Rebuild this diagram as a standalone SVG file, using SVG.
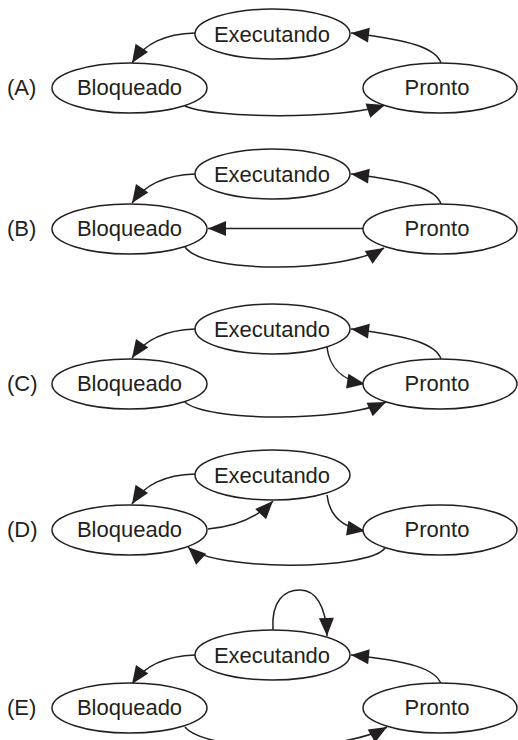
<svg xmlns="http://www.w3.org/2000/svg" width="518" height="740" viewBox="0 0 518 740">
<defs>
<style>
.n{fill:#fff;stroke:#231f20;stroke-width:1.5}
.t{font-family:"Liberation Sans",Arial,sans-serif;font-size:22px;fill:#231f20;text-anchor:middle}
.l{font-family:"Liberation Sans",Arial,sans-serif;font-size:22px;fill:#231f20}
.c{fill:none;stroke:#231f20;stroke-width:1.5;marker-end:url(#ah)}
</style>
<marker id="ah" markerUnits="userSpaceOnUse" markerWidth="19" markerHeight="16" refX="18" refY="8" orient="auto" overflow="visible">
<path d="M0,0.5 L18,8 L0,15.5 z" fill="#231f20"/>
</marker>
</defs>
<rect width="518" height="740" fill="#fff"/>

<g id="labels">
<text class="l" x="7" y="95">(A)</text>
<text class="l" x="7" y="236">(B)</text>
<text class="l" x="7" y="391">(C)</text>
<text class="l" x="7" y="537">(D)</text>
<text class="l" x="7" y="715">(E)</text>
</g>

<g id="connectors">
<!-- A -->
<path class="c" d="M195,33 C165,34 145,43 132,63"/>
<path class="c" d="M441,63 C436,48 410,40 351,33"/>
<path class="c" d="M185,106 C210,118 340,120 385,105"/>
<!-- B -->
<path class="c" d="M195,174 C165,175 145,184 132,203"/>
<path class="c" d="M441,204 C436,189 410,181 351,174"/>
<path class="c" d="M363,228.5 L208,228.5"/>
<path class="c" d="M185,247 C205,275 345,272 384,248"/>
<!-- C -->
<path class="c" d="M195,329 C165,330 145,339 132,358"/>
<path class="c" d="M441,359 C436,344 410,336 351,329"/>
<path class="c" d="M185,402 C205,421 340,423 386,402"/>
<path class="c" d="M327,347 C329,365 340,380 365,384"/>
<!-- D -->
<path class="c" d="M195,474 C165,475 145,484 132,504"/>
<path class="c" d="M208,529 C230,527 255,520 273,501"/>
<path class="c" d="M327,495 C329,513 340,527 365,531"/>
<path class="c" d="M385,548 C370,570 215,572 188,547"/>
<!-- E -->
<path class="c" d="M195,655 C165,656 145,665 132,684"/>
<path class="c" d="M441,684 C436,669 410,661 351,655"/>
<path class="c" d="M185,727 C205,752 340,754 387,727"/>
<path class="c" d="M273,630 C271,600 285,590 300,590 C315,590 326,605 327,636"/>
</g>

<g id="A-executando"><ellipse class="n" cx="272.5" cy="34" rx="77.5" ry="25"/><text class="t" x="272" y="41.5">Executando</text></g>
<g id="A-bloqueado"><ellipse class="n" cx="129.5" cy="88" rx="77.5" ry="25"/><text class="t" x="129.5" y="95">Bloqueado</text></g>
<g id="A-pronto"><ellipse class="n" cx="440" cy="88" rx="77" ry="25"/><text class="t" x="437" y="95">Pronto</text></g>

<g id="B-executando"><ellipse class="n" cx="272.5" cy="174" rx="77.5" ry="25"/><text class="t" x="272" y="181.5">Executando</text></g>
<g id="B-bloqueado"><ellipse class="n" cx="129.5" cy="229" rx="77.5" ry="25"/><text class="t" x="129.5" y="236">Bloqueado</text></g>
<g id="B-pronto"><ellipse class="n" cx="440" cy="229" rx="77" ry="25"/><text class="t" x="437" y="236">Pronto</text></g>

<g id="C-executando"><ellipse class="n" cx="272.5" cy="329" rx="77.5" ry="25"/><text class="t" x="272" y="336.5">Executando</text></g>
<g id="C-bloqueado"><ellipse class="n" cx="129.5" cy="384" rx="77.5" ry="25"/><text class="t" x="129.5" y="391">Bloqueado</text></g>
<g id="C-pronto"><ellipse class="n" cx="440" cy="384" rx="77" ry="25"/><text class="t" x="437" y="391">Pronto</text></g>

<g id="D-executando"><ellipse class="n" cx="272.5" cy="475" rx="77.5" ry="25"/><text class="t" x="272" y="482.5">Executando</text></g>
<g id="D-bloqueado"><ellipse class="n" cx="129.5" cy="530" rx="77.5" ry="25"/><text class="t" x="129.5" y="537">Bloqueado</text></g>
<g id="D-pronto"><ellipse class="n" cx="440" cy="530" rx="77" ry="25"/><text class="t" x="437" y="537">Pronto</text></g>

<g id="E-executando"><ellipse class="n" cx="272.5" cy="655" rx="77.5" ry="25"/><text class="t" x="272" y="662.5">Executando</text></g>
<g id="E-bloqueado"><ellipse class="n" cx="129.5" cy="708" rx="77.5" ry="25"/><text class="t" x="129.5" y="715">Bloqueado</text></g>
<g id="E-pronto"><ellipse class="n" cx="440" cy="708" rx="77" ry="25"/><text class="t" x="437" y="715">Pronto</text></g>
</svg>
